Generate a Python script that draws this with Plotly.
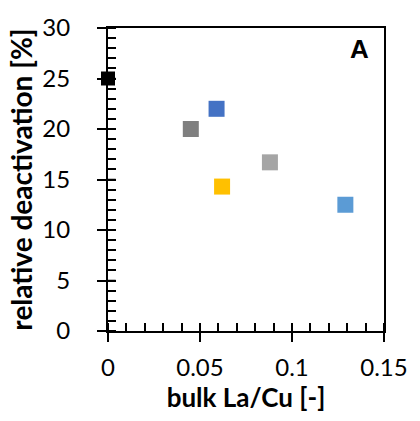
import plotly.graph_objects as go

la_cu = [0.0, 0.045, 0.059, 0.062, 0.088, 0.129]
deactivation = [25.0, 20.0, 22.0, 14.3, 16.7, 12.5]
colors = ["#000000", "#7F7F7F", "#4472C4", "#FFC000", "#A5A5A5", "#5B9BD5"]
sizes = [14, 16, 16, 16, 16, 16]
x_ticks = [0, 0.05, 0.1, 0.15]
x_labels = ["0", "0.05", "0.1", "0.15"]
y_ticks = [0, 5, 10, 15, 20, 25, 30]

FONT = "Lato"

fig = go.Figure()
fig.add_trace(go.Scatter(
    x=la_cu, y=deactivation, mode="markers",
    marker=dict(symbol="square", size=sizes, color=colors, opacity=1, line=dict(width=0)),
    opacity=1, cliponaxis=False, showlegend=False,
))

fig.update_layout(
    width=420, height=421,
    margin=dict(l=108, r=29, t=23, b=90),
    paper_bgcolor="white", plot_bgcolor="rgba(0,0,0,0)",
    font=dict(family=FONT, color="#000000"),
    xaxis=dict(
        range=[0, 0.15], tickmode="array", tickvals=x_ticks, ticktext=x_labels,
        showgrid=False, zeroline=False,
        showline=True, linecolor="black", linewidth=2, mirror=True,
        ticks="outside", ticklen=9, tickwidth=1.5, tickcolor="black",
        minor=dict(ticks="inside", dtick=0.01, ticklen=8, tickwidth=1.5, tickcolor="black", showgrid=False),
        tickfont=dict(size=24, family=FONT), ticklabelstandoff=5,
        title=dict(text="<b>bulk La/Cu [-]</b>", font=dict(size=26, family=FONT), standoff=6),
    ),
    yaxis=dict(
        range=[0, 30], tickmode="array", tickvals=y_ticks,
        showgrid=False, zeroline=False,
        showline=True, linecolor="black", linewidth=2, mirror=True,
        ticks="outside", ticklen=9, tickwidth=1.5, tickcolor="black",
        minor=dict(ticks="inside", dtick=1, ticklen=8, tickwidth=1.5, tickcolor="black", showgrid=False),
        tickfont=dict(size=24, family=FONT), ticklabelstandoff=22,
        title=dict(text="<b>relative deactivation [%]</b>", font=dict(size=28, family=FONT), standoff=2),
    ),
    annotations=[dict(
        text="<b>A</b>", xref="paper", yref="paper", x=0.91, y=0.93,
        xanchor="center", yanchor="middle", showarrow=False,
        font=dict(size=26, family="Liberation Sans", color="black"),
    )],
)

# inside portion of the crossing major ticks
shapes = []
for xv in x_ticks[1:-1]:
    shapes.append(dict(type="line", xref="x", yref="y domain", x0=xv, x1=xv, y0=0, y1=0.026,
                       line=dict(color="black", width=1.5)))
for yv in y_ticks[1:-1]:
    shapes.append(dict(type="line", xref="x domain", yref="y", x0=0, x1=0.028, y0=yv, y1=yv,
                       line=dict(color="black", width=1.5)))
fig.update_layout(shapes=shapes)

fig.write_html("out.html")
